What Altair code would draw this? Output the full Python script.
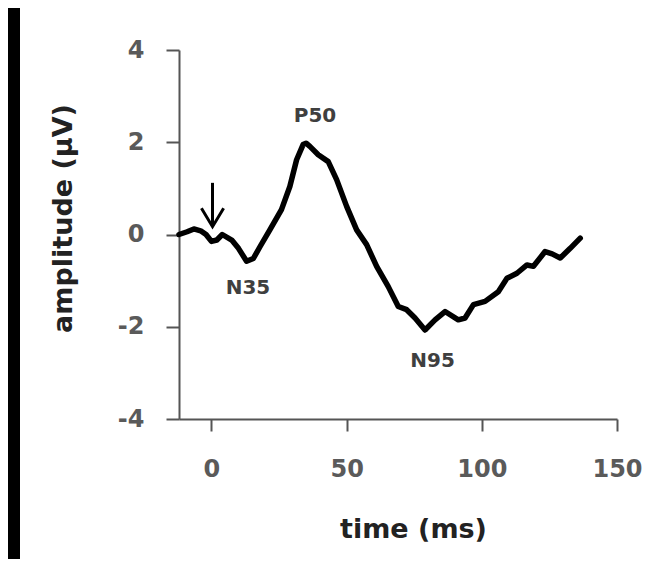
import altair as alt
import pandas as pd

# ---- data ----
time_ms = [-12, -9, -6.5, -4, -2, 0, 2, 4, 7.5, 10, 13, 15.5, 18, 21.6, 25.9, 29,
           31.5, 33.9, 35, 36.4, 39.5, 43.2, 46.3, 50, 53.7, 57.4, 61.1, 65.4, 69.1,
           72.2, 75.3, 79, 82.7, 86.4, 91.3, 93.8, 96.9, 101.2, 106.1, 109.3, 113,
           116.7, 119.1, 123.4, 126, 129, 132.7, 136.4]
amplitude = [0.0, 0.06, 0.12, 0.08, 0.0, -0.15, -0.12, 0.0, -0.12, -0.3, -0.58, -0.52,
             -0.26, 0.1, 0.54, 1.04, 1.62, 1.95, 1.98, 1.91, 1.73, 1.58, 1.19, 0.61,
             0.1, -0.22, -0.69, -1.13, -1.56, -1.63, -1.81, -2.07, -1.85, -1.67, -1.85,
             -1.81, -1.52, -1.45, -1.24, -0.95, -0.84, -0.66, -0.69, -0.37, -0.42,
             -0.51, -0.3, -0.08]

peak_labels = ["N35", "P50", "N95"]
peak_x = [13.5, 38.3, 81.8]
peak_y = [-1.16, 2.56, -2.74]

arrow_x = [0.4]
arrow_top = [1.12]
arrow_tip = [0.2]
head_x = [-3.7, 0.4, 4.5]
head_y = [0.57, 0.17, 0.57]

x_ticks = [0, 50, 100, 150]
y_ticks = [-4, -2, 0, 2, 4]

FONT = "DejaVu Sans"

curve = pd.DataFrame({"t": time_ms, "v": amplitude})
peaks = pd.DataFrame({"t": peak_x, "v": peak_y, "label": peak_labels})
shaft = pd.DataFrame({"t": arrow_x, "v": arrow_top, "v2": arrow_tip})
head = pd.DataFrame({"t": head_x, "v": head_y, "i": list(range(len(head_x)))})

x_scale = alt.Scale(domain=[-12, 150], nice=False, zero=False)
y_scale = alt.Scale(domain=[-4, 4], nice=False, zero=False)

x_axis = alt.Axis(
    values=x_ticks, title="time (ms)", grid=False,
    domainColor="#555555", domainWidth=2, tickColor="#555555", tickWidth=2, tickSize=12,
    labelFont=FONT, labelFontWeight="bold", labelFontSize=24, labelColor="#5a5a5a",
    labelPadding=26, labelFlush=False, labelOverlap=False,
    labelExpr="'' + datum.value",
    titleFont=FONT, titleFontWeight="bold", titleFontSize=27, titleColor="#222222",
    titleX=234, titleY=110, titleAlign="center", titleBaseline="middle",
)
y_axis = alt.Axis(
    values=y_ticks, title="amplitude (µV)", grid=False,
    domainColor="#555555", domainWidth=2, tickColor="#555555", tickWidth=2, tickSize=13,
    labelFont=FONT, labelFontWeight="bold", labelFontSize=24, labelColor="#5a5a5a",
    labelPadding=22, labelFlush=False, labelOverlap=False,
    labelExpr="'' + datum.value",
    titleFont=FONT, titleFontWeight="bold", titleFontSize=27, titleColor="#222222",
    titleAngle=270, titleX=-116, titleY=168, titleAlign="center", titleBaseline="middle",
)

line = alt.Chart(curve).mark_line(
    color="black", strokeWidth=5.5, interpolate="linear", strokeCap="round", strokeJoin="round"
).encode(
    x=alt.X("t:Q", scale=x_scale, axis=x_axis),
    y=alt.Y("v:Q", scale=y_scale, axis=y_axis),
)

arrow_shaft = alt.Chart(shaft).mark_rule(color="black", strokeWidth=3).encode(
    x=alt.X("t:Q", scale=x_scale),
    y=alt.Y("v:Q", scale=y_scale),
    y2="v2:Q",
)
arrow_head = alt.Chart(head).mark_line(color="black", strokeWidth=3).encode(
    x=alt.X("t:Q", scale=x_scale),
    y=alt.Y("v:Q", scale=y_scale),
    order="i:O",
)

labels = alt.Chart(peaks).mark_text(
    font=FONT, fontWeight="bold", fontSize=20, color="#3f3f3f",
    align="center", baseline="middle",
).encode(
    x=alt.X("t:Q", scale=x_scale),
    y=alt.Y("v:Q", scale=y_scale),
    text="label:N",
)

# dark screen edge on the left of the reference photo
edge = alt.Chart(pd.DataFrame({"k": [0]})).mark_rect(color="black").encode(
    x=alt.value(-171), x2=alt.value(-159), y=alt.value(-42), y2=alt.value(509)
)

chart = alt.layer(line, arrow_shaft, arrow_head, labels, edge).properties(
    width=438, height=369,
    padding={"left": 171, "top": 42, "right": 35, "bottom": 140},
    autosize=alt.AutoSizeParams(type="none"),
    background="white",
).configure_view(stroke=None)

chart.save("out.html", embed_options={"renderer": "svg", "actions": False})
